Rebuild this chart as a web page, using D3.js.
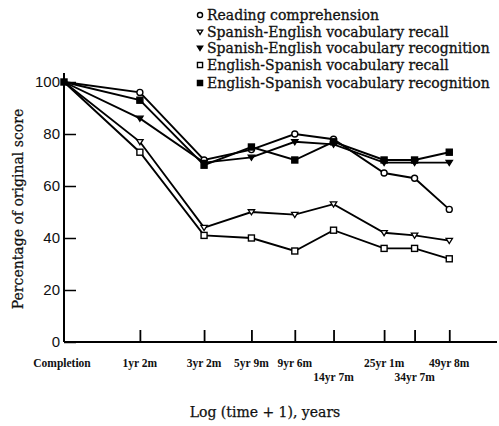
<!DOCTYPE html>
<html><head><meta charset="utf-8">
<script src="https://cdn.jsdelivr.net/npm/d3@7"></script>
<style>
html,body{margin:0;padding:0;background:#fff;}
svg{display:block;}
</style></head>
<body>
<svg id="chart" width="499" height="426"></svg>
<script>
// ---- data ----
const timeLabels = ["Completion","1yr 2m","3yr 2m","5yr 9m","9yr 6m","14yr 7m","25yr 1m","34yr 7m","49yr 8m"];
const monthsAfter = [0, 14, 38, 69, 114, 175, 301, 415, 596];
const seriesNames = [
  "Reading comprehension",
  "Spanish-English vocabulary recall",
  "Spanish-English vocabulary recognition",
  "English-Spanish vocabulary recall",
  "English-Spanish vocabulary recognition"
];
const readingComprehension = [100, 96, 70, 74, 80, 78, 65, 63, 51];
const seVocabRecall        = [100, 77, 44, 50, 49, 53, 42, 41, 39];
const seVocabRecognition   = [100, 86, 69, 71, 77, 76, 69, 69, 69];
const esVocabRecall        = [100, 73, 41, 40, 35, 43, 36, 36, 32];
const esVocabRecognition   = [100, 93, 68, 75, 70, 77, 70, 70, 73];
const yTicks = [0, 20, 40, 60, 80, 100];

const seriesValues = [readingComprehension, seVocabRecall, seVocabRecognition, esVocabRecall, esVocabRecognition];
const markerTypes = ["circleOpen", "triOpen", "triFilled", "squareOpen", "squareFilled"];

// ---- layout ----
const svg = d3.select("#chart");
const x0 = 64, x1 = 497, yBottom = 342, yTop = 73;
const x = d3.scaleLog().domain([1, Math.pow(10, (x1 - x0) / 226)]).range([x0, x1]);
const y = d3.scaleLinear().domain([0, 100]).range([yBottom, 82]);
const tx = m => x(m / 12 + 1);

// axes
const xAxis = d3.axisBottom(x).tickValues(monthsAfter.slice(1).map(m => m / 12 + 1))
  .tickSize(-12).tickFormat("");
const gx = svg.append("g").attr("transform", `translate(0,${yBottom})`).call(xAxis);
gx.select(".domain").remove();
gx.selectAll("line").attr("stroke", "#000").attr("stroke-width", 1.8);
svg.append("line").attr("x1", x0).attr("x2", x1).attr("y1", yBottom).attr("y2", yBottom)
  .attr("stroke", "#000").attr("stroke-width", 2);

const yAxis = d3.axisLeft(y).tickValues(yTicks).tickSize(-12).tickFormat("");
const gy = svg.append("g").attr("transform", `translate(${x0},0)`).call(yAxis);
gy.select(".domain").remove();
gy.selectAll("line").attr("stroke", "#000").attr("stroke-width", 1.5);
svg.append("line").attr("x1", x0).attr("x2", x0).attr("y1", yTop).attr("y2", yBottom)
  .attr("stroke", "#000").attr("stroke-width", 2);

// y tick labels
svg.append("g").selectAll("text").data(yTicks).join("text")
  .attr("x", x0 - 4).attr("y", d => y(d) + 5)
  .attr("text-anchor", "end")
  .attr("font-family", "Liberation Sans Narrow, Liberation Sans, sans-serif")
  .attr("font-size", 15).attr("fill", "#111")
  .text(d => d);

// x tick labels
const stagger = new Set([5, 7]);
svg.append("g").selectAll("text").data(timeLabels).join("text")
  .attr("x", (d, i) => i === 0 ? x0 - 2 : tx(monthsAfter[i]))
  .attr("y", (d, i) => stagger.has(i) ? 381 : 367)
  .attr("text-anchor", "middle")
  .attr("font-family", "Liberation Serif, serif")
  .attr("font-weight", "bold")
  .attr("font-size", 11.5).attr("fill", "#111")
  .text(d => d);

// axis titles
svg.append("text").attr("x", 265).attr("y", 417).attr("text-anchor", "middle")
  .attr("font-family", "DejaVu Serif, serif").attr("font-size", 14).attr("fill", "#111")
  .attr("stroke", "#111").attr("stroke-width", 0.25)
  .text("Log (time + 1), years");
svg.append("text").attr("transform", `translate(23,209) rotate(-90)`).attr("text-anchor", "middle")
  .attr("font-family", "DejaVu Serif, serif").attr("font-size", 14).attr("fill", "#111")
  .attr("stroke", "#111").attr("stroke-width", 0.25)
  .text("Percentage of original score");

// markers
function drawMarker(g, type, cx, cy, s) {
  const sz = s || 1;
  if (type === "circleOpen") {
    g.append("circle").attr("cx", cx).attr("cy", cy).attr("r", 3 * sz)
      .attr("fill", "#fff").attr("stroke", "#000").attr("stroke-width", 1.4);
  } else if (type === "squareOpen" || type === "squareFilled") {
    const h = 3 * sz;
    g.append("rect").attr("x", cx - h).attr("y", cy - h).attr("width", 2 * h).attr("height", 2 * h)
      .attr("fill", type === "squareFilled" ? "#000" : "#fff").attr("stroke", "#000").attr("stroke-width", 1.4);
  } else {
    const h = 3.2 * sz;
    const pts = [[cx - h, cy - h * 0.7], [cx + h, cy - h * 0.7], [cx, cy + h * 0.9]];
    g.append("path").attr("d", d3.line()(pts) + "Z")
      .attr("fill", type === "triFilled" ? "#000" : "#fff").attr("stroke", "#000").attr("stroke-width", 1.3);
  }
}

const line = d3.line().x((d, i) => tx(monthsAfter[i])).y(d => y(d));
const plot = svg.append("g");
seriesValues.forEach(vals => {
  plot.append("path").datum(vals).attr("d", line)
    .attr("fill", "none").attr("stroke", "#000").attr("stroke-width", 1.9);
});
seriesValues.forEach((vals, si) => {
  vals.forEach((v, i) => {
    if (i === 0) return;
    drawMarker(plot, markerTypes[si], tx(monthsAfter[i]), y(v));
  });
});
// start point marker
drawMarker(plot, "squareFilled", x0, y(100));

// legend
const legendY = [15, 32, 48, 65, 83];
const lg = svg.append("g");
seriesNames.forEach((name, i) => {
  drawMarker(lg, markerTypes[i], 200, legendY[i], 0.85);
  lg.append("text").attr("x", 207).attr("y", legendY[i] + 5)
    .attr("font-family", "DejaVu Serif, serif").attr("font-size", 14).attr("fill", "#111")
    .attr("stroke", "#111").attr("stroke-width", 0.3)
    .text(name);
});
</script>
</body></html>
